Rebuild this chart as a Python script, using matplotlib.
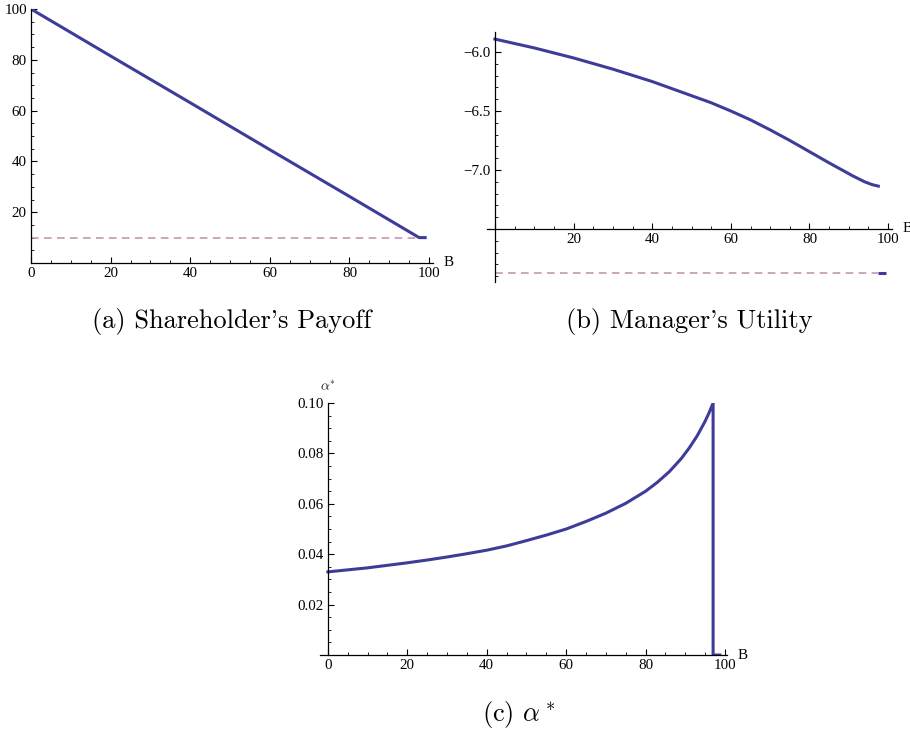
import numpy as np
import matplotlib
matplotlib.use("Agg")
import matplotlib.pyplot as plt
from matplotlib.ticker import MultipleLocator, FixedLocator

# (a) Shareholder's payoff
b_payoff = [0, 20, 40, 60, 80, 97.5, 99.4]
payoff = [100, 81.5, 63.1, 44.6, 26.2, 10, 10]
payoff_reserve = 10
b_reserve_a = [0, 97.5]

# (b) Manager's utility
b_util = [0, 10, 20, 30, 40, 50, 55, 60, 65, 70, 75, 80, 85, 88, 91, 94, 96, 97.5]
util = [-5.89, -5.965, -6.05, -6.145, -6.25, -6.37, -6.43, -6.50, -6.575,
        -6.66, -6.75, -6.845, -6.94, -6.995, -7.05, -7.10, -7.125, -7.137]
util_reserve = -7.87
b_reserve_b = [0, 97.3]
b_util_tail = [97.3, 99.5]

# (c) optimal alpha
b_alpha = [0, 5, 10, 15, 20, 25, 30, 35, 40, 45, 50, 55, 60, 65, 70, 75, 80,
           83, 86, 89, 91, 93, 95, 96, 97, 97, 98.7]
alpha = [0.033, 0.0338, 0.0346, 0.0356, 0.0366, 0.0377, 0.0389, 0.0402,
         0.0416, 0.0433, 0.0454, 0.0476, 0.0500, 0.0530, 0.0563, 0.0602,
         0.0650, 0.0686, 0.0728, 0.0780, 0.0822, 0.0870, 0.0928, 0.0962,
         0.1000, 0.0, 0.0]

x_ticks = [0, 20, 40, 60, 80, 100]

BLUE = "#3d3d99"
PINK = "#bf8fae"
TICKFONT = "Liberation Serif"
TS = 10.8

plt.rcParams["mathtext.fontset"] = "cm"

fig = plt.figure(figsize=(9.1, 7.34), dpi=100)


def style_axes(ax, xmaj, ymaj, xmin_step, ymin_step, xlabels, ylabels):
    for s in ["top", "right"]:
        ax.spines[s].set_visible(False)
    ax.xaxis.set_major_locator(FixedLocator(xmaj))
    ax.xaxis.set_minor_locator(MultipleLocator(xmin_step))
    ax.yaxis.set_major_locator(FixedLocator(ymaj))
    ax.yaxis.set_minor_locator(MultipleLocator(ymin_step))
    ax.set_xticklabels(xlabels)
    ax.set_yticklabels(ylabels)
    ax.tick_params(which="major", direction="in", length=4.5, width=0.8,
                   labelsize=TS, pad=3)
    ax.tick_params(which="minor", direction="in", length=2.5, width=0.6)
    for lab in ax.get_xticklabels() + ax.get_yticklabels():
        lab.set_fontfamily(TICKFONT)
    for s in ["left", "bottom"]:
        ax.spines[s].set_linewidth(0.9)


# panel a
ax1 = fig.add_axes([0.0341, 0.6417, 0.4418, 0.3460])
ax1.plot(b_reserve_a, [payoff_reserve] * 2, color=PINK, lw=1.1,
         dashes=(5, 3.5))
ax1.plot(b_payoff, payoff, color=BLUE, lw=2.2, solid_capstyle="butt")
ax1.set_xlim(0, 101)
ax1.set_ylim(0, 100)
style_axes(ax1, x_ticks, [20, 40, 60, 80, 100], 5, 5,
           ["0", "20", "40", "60", "80", "100"],
           ["20", "40", "60", "80", "100"])
ax1.text(1.027, 0, "B", transform=ax1.get_yaxis_transform(), fontsize=TS,
         family=TICKFONT, va="center", ha="left")

# panel b
ax2 = fig.add_axes([0.5352, 0.6158, 0.4451, 0.3406])
ax2.plot(b_reserve_b, [util_reserve] * 2, color=PINK, lw=1.1,
         dashes=(5, 3.5))
ax2.plot(b_util_tail, [util_reserve] * 2, color=BLUE, lw=2.2,
         solid_capstyle="butt")
ax2.plot(b_util, util, color=BLUE, lw=2.2)
ax2.set_xlim(-2, 101)
ax2.set_ylim(-7.95, -5.83)
ax2.spines["left"].set_position(("data", 0))
ax2.spines["bottom"].set_position(("data", -7.5))
style_axes(ax2, x_ticks, [-6.0, -6.5, -7.0], 5, 0.1,
           ["", "20", "40", "60", "80", "100"],
           ["\u22126.0", "\u22126.5", "\u22127.0"])
ax2.text(1.026, -7.5, "B", transform=ax2.get_yaxis_transform(), fontsize=TS,
         family=TICKFONT, va="center", ha="left")

# panel c
ax3 = fig.add_axes([0.3516, 0.1076, 0.4473, 0.3433])
ax3.plot(b_alpha, alpha, color=BLUE, lw=2.2)
ax3.set_xlim(-2, 100.5)
ax3.set_ylim(0, 0.1)
ax3.spines["left"].set_position(("data", 0))
style_axes(ax3, x_ticks, [0.02, 0.04, 0.06, 0.08, 0.10], 5, 0.005,
           ["0", "20", "40", "60", "80", "100"],
           ["0.02", "0.04", "0.06", "0.08", "0.10"])
ax3.text(1.025, 0, "B", transform=ax3.get_yaxis_transform(), fontsize=TS,
         family=TICKFONT, va="center", ha="left")
ax3.annotate(r"$\alpha^{*}$", xy=(0, 0.1), xytext=(0, 7),
             textcoords="offset points", ha="center", va="bottom",
             fontsize=10, color="#222222")

# captions
fig.text(232 / 910, 1 - 322 / 734, "(a) Shareholder's Payoff",
         family="cmr10", fontsize=19, ha="center", va="center")
fig.text(689 / 910, 1 - 322 / 734, "(b) Manager's Utility",
         family="cmr10", fontsize=19, ha="center", va="center")
fig.text(519 / 910, 1 - 715 / 734, r"(c) $\alpha^*$",
         family="cmr10", fontsize=19, ha="center", va="center")

fig.savefig("out.png", dpi=100)
